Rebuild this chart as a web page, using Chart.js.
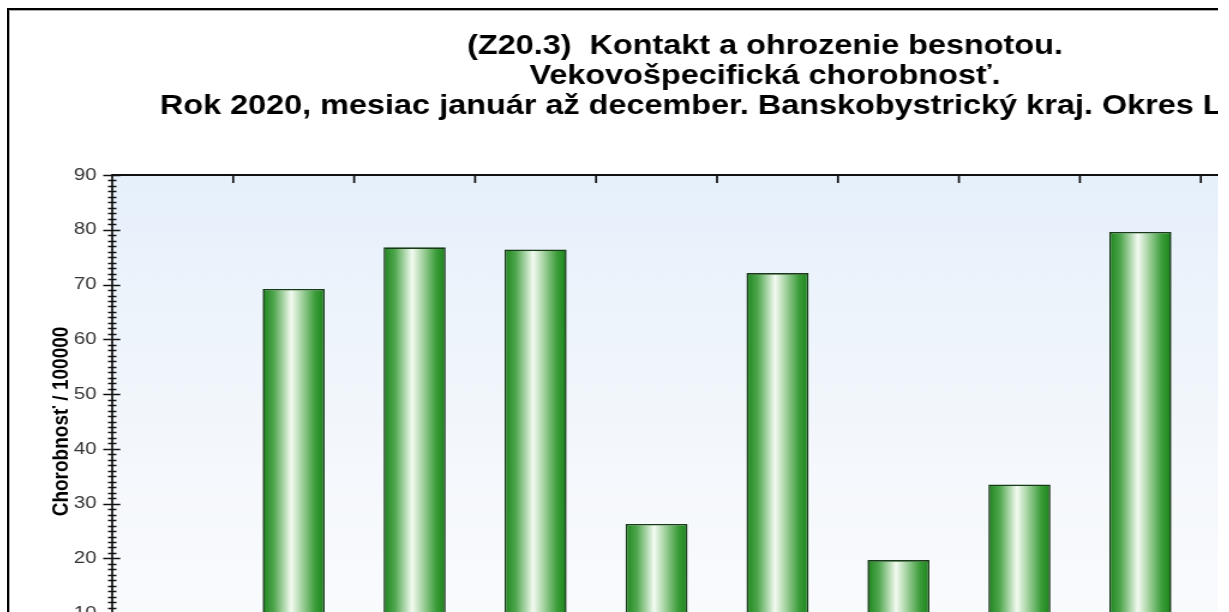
<!DOCTYPE html>
<html>
<head>
<meta charset="utf-8">
<script src="https://cdn.jsdelivr.net/npm/chart.js@4/dist/chart.umd.min.js"></script>
<style>
  html, body { margin: 0; padding: 0; background: #fff; overflow: hidden; }
  #ramik {
    position: absolute; left: 7px; top: 8px;
    width: 1209px; height: 700px;
    border-left: 2px solid #000; border-top: 2px solid #000;
    box-shadow: inset 1px 1px 0 #aaa;
    overflow: hidden;
  }
  /* povodny obrazok je vodorovne roztiahnuty */
  #natiahnutie { transform: scaleX(1.2); transform-origin: 0 0; width: 1260px; }
  #graf { display: block; }
</style>
</head>
<body>
<div id="ramik">
  <div id="natiahnutie">
    <canvas id="graf" width="1260" height="720"></canvas>
  </div>
</div>
<script>
// ===============================
// DATA
// ===============================
const vekoveSkupiny = ["0", "1-4", "5-9", "10-14", "15-19", "20-24", "25-34", "35-44", "45-54", "55-64", "65+"];
const chorobnost = [0, 69.2, 76.8, 76.4, 26.3, 72.1, 19.7, 33.5, 79.6, null, null];
const osYTicky = [0, 10, 20, 30, 40, 50, 60, 70, 80, 90];

const nadpis = [
  "(Z20.3)  Kontakt a ohrozenie besnotou.",
  "Vekovošpecifická chorobnosť.",
  "Rok 2020, mesiac január až december. Banskobystrický kraj. Okres Lučenec.   "
];
const nazovOsiY = "Chorobnosť / 100000";

const SIRKA_STLPCA = 0.513;
const pismo = "'Liberation Sans', Arial, sans-serif";

// gradient stlpca (valec)
function farbaStlpca(c) {
  const chart = c.chart;
  const xs = chart.scales.x;
  if (!chart.chartArea || !xs) return "#2a8f2a";
  const stred = xs.getPixelForValue(c.dataIndex);
  const w = xs.width / vekoveSkupiny.length * SIRKA_STLPCA;
  const g = chart.ctx.createLinearGradient(stred - w / 2, 0, stred + w / 2, 0);
  g.addColorStop(0, "#1d861d");
  g.addColorStop(0.18, "#4fa64d");
  g.addColorStop(0.46, "#f4fbf2");
  g.addColorStop(0.62, "#a9d5a5");
  g.addColorStop(0.85, "#3a9c38");
  g.addColorStop(1, "#1b841b");
  return g;
}

// pozadie + osi s vedlajsimi ciarkami
const osiPlugin = {
  id: "osi",
  beforeDraw(chart) {
    const { ctx, chartArea: a } = chart;
    ctx.save();
    const g = ctx.createLinearGradient(0, a.top, 0, a.bottom);
    g.addColorStop(0, "#e6f0fb");
    g.addColorStop(0.6, "#f5f8fc");
    g.addColorStop(1, "#fbfcfe");
    ctx.fillStyle = g;
    ctx.fillRect(a.left, a.top, a.right - a.left, a.bottom - a.top);
    ctx.restore();
  },
  afterDatasetsDraw(chart) {
    const { ctx, chartArea: a, scales: { x, y } } = chart;
    ctx.save();
    ctx.strokeStyle = "#111";

    // horne a dolne ohranicenie
    ctx.lineWidth = 2;
    ctx.beginPath();
    ctx.moveTo(a.left, a.top); ctx.lineTo(a.right, a.top);
    ctx.moveTo(a.left, a.bottom); ctx.lineTo(a.right, a.bottom);
    ctx.stroke();

    // os Y
    ctx.lineWidth = 1.7;
    ctx.beginPath();
    ctx.moveTo(a.left, a.top - 1); ctx.lineTo(a.left, a.bottom + 1);
    ctx.stroke();

    // ciarky na osi Y
    ctx.lineWidth = 1.6;
    ctx.beginPath();
    for (let v = y.min; v <= y.max; v += 1) {
      const py = Math.round(y.getPixelForValue(v)) + 0.5;
      if (v % 10 === 0) {
        ctx.moveTo(a.left - 7.5, py); ctx.lineTo(a.left + 6.7, py);
      } else {
        ctx.moveTo(a.left - 3.5, py); ctx.lineTo(a.left + 3.5, py);
      }
    }
    ctx.stroke();

    // popisky osi Y (os je uzka, preto ich kreslime sami)
    ctx.fillStyle = "#333";
    ctx.font = "17px " + pismo;
    ctx.textAlign = "right";
    ctx.textBaseline = "middle";
    y.ticks.forEach(t => {
      ctx.fillText(String(t.value), a.left - 13, y.getPixelForValue(t.value));
    });

    // ciarky hore a dole medzi kategoriami
    ctx.lineWidth = 1.7;
    ctx.beginPath();
    for (let i = 1; i < vekoveSkupiny.length; i++) {
      const px = (x.getPixelForValue(i - 1) + x.getPixelForValue(i)) / 2;
      ctx.moveTo(px, a.top); ctx.lineTo(px, a.top + 8);
      ctx.moveTo(px, a.bottom); ctx.lineTo(px, a.bottom - 8);
    }
    ctx.stroke();
    ctx.restore();
  }
};

new Chart(document.getElementById("graf"), {
  type: "bar",
  data: {
    labels: vekoveSkupiny,
    datasets: [{
      label: nazovOsiY,
      data: chorobnost,
      backgroundColor: farbaStlpca,
      borderColor: "#173a17",
      borderWidth: 1.6,
      borderSkipped: false,
      barPercentage: SIRKA_STLPCA,
      categoryPercentage: 1
    }]
  },
  options: {
    responsive: false,
    animation: false,
    devicePixelRatio: 1,
    layout: { padding: { left: 65.2, right: 65.2, top: 0, bottom: 22 } },
    plugins: {
      legend: { display: false },
      tooltip: { enabled: false },
      title: {
        display: true,
        text: nadpis,
        color: "#000",
        font: { family: pismo, size: 27, weight: "bold", lineHeight: 30 / 27 },
        padding: { top: 21.5, bottom: 53.5 }
      }
    },
    scales: {
      x: {
        grid: { display: false, drawTicks: false },
        border: { display: false },
        ticks: { color: "#333", font: { family: pismo, size: 17 }, padding: 10 },
        afterFit(s) { s.height = 40; }
      },
      y: {
        min: 0,
        max: 90,
        afterBuildTicks(s) { s.ticks = osYTicky.map(v => ({ value: v })); },
        grid: { display: false, drawTicks: false },
        border: { display: false },
        ticks: { display: false },
        title: {
          display: true,
          text: nazovOsiY,
          color: "#000",
          font: { family: pismo, size: 19, weight: "bold", lineHeight: 1.2 },
          padding: { top: -32.6, bottom: 0 }
        },
        afterFit(s) { s.width = 20.8; }
      }
    }
  },
  plugins: [osiPlugin]
});
</script>
</body>
</html>
